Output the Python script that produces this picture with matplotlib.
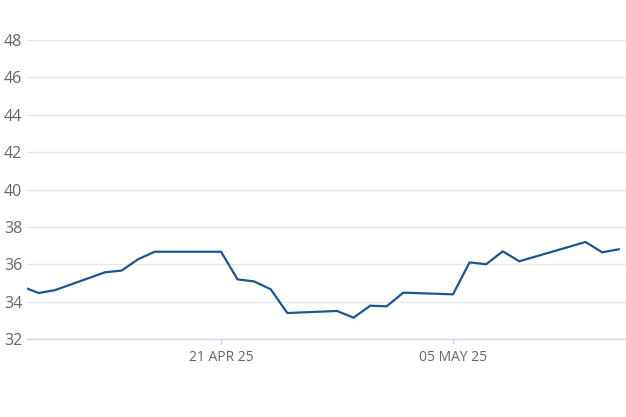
import matplotlib
matplotlib.use("Agg")
import matplotlib.pyplot as plt
import datetime as dt

dates = ["2025-04-09", "2025-04-10", "2025-04-11", "2025-04-14", "2025-04-15",
         "2025-04-16", "2025-04-17", "2025-04-21", "2025-04-22", "2025-04-23",
         "2025-04-24", "2025-04-25", "2025-04-28", "2025-04-29", "2025-04-30",
         "2025-05-01", "2025-05-02", "2025-05-05", "2025-05-06", "2025-05-07",
         "2025-05-08", "2025-05-09", "2025-05-13", "2025-05-14", "2025-05-15"]
values = [34.80, 34.46, 34.62, 35.57, 35.66,
          36.27, 36.67, 36.67, 35.19, 35.08,
          34.66, 33.39, 33.50, 33.14, 33.78,
          33.75, 34.48, 34.39, 36.10, 36.00,
          36.69, 36.16, 37.19, 36.64, 36.80]
y_ticks = [32, 34, 36, 38, 40, 42, 44, 46, 48]
x_tick_dates = ["2025-04-21", "2025-05-05"]
x_tick_labels = ["21 APR 25", "05 MAY 25"]

plt.rcParams['font.family'] = ['Open Sans', 'DejaVu Sans']

x = [dt.datetime.strptime(d, "%Y-%m-%d") for d in dates]
fig = plt.figure(figsize=(6.26, 4.17), dpi=100)
ax = fig.add_axes([27/626, 1-339/417, 1-27/626, (339-40)/417])

ax.plot(x, values, color="#1b5592", lw=1.6, solid_joinstyle="round")

ref = dt.datetime(2025, 4, 21)
ax.set_xlim(ref - dt.timedelta(days=11.71), ref + dt.timedelta(days=24.44))
ax.set_ylim(32, 48)

ax.set_yticks(y_ticks)
ax.set_yticklabels([str(v) for v in y_ticks])
ax.set_xticks([dt.datetime.strptime(d, "%Y-%m-%d") for d in x_tick_dates])
ax.set_xticklabels(x_tick_labels)

ax.grid(axis="y", color="#e6e6e6", lw=1)
ax.set_axisbelow(True)
for s in ["top", "right", "left"]:
    ax.spines[s].set_visible(False)
ax.spines["bottom"].set_color("#ccd6eb")
ax.spines["bottom"].set_linewidth(1)

ax.tick_params(axis="y", length=0, pad=0, labelsize=11.5, labelcolor="#666666")
ax.tick_params(axis="x", length=3.8, width=1, color="#ccd6eb", pad=4,
               labelsize=10, labelcolor="#666666")
for lbl in ax.get_yticklabels():
    lbl.set_horizontalalignment("left")
    lbl.set_x(-23/599)

fig.savefig("out.png", dpi=100)
